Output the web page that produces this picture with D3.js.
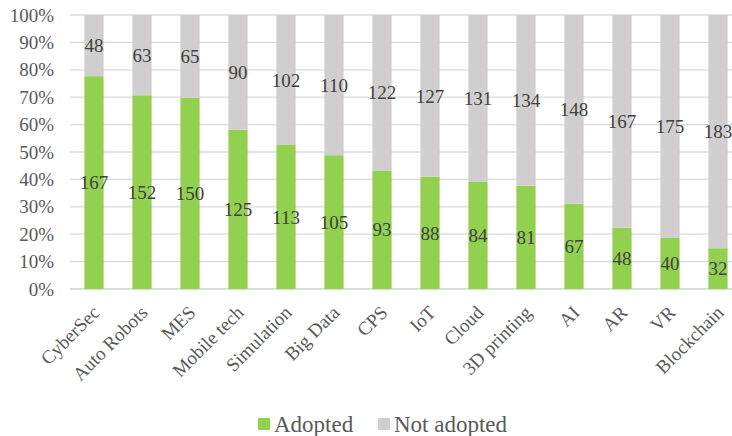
<!DOCTYPE html>
<html lang="en">
<head>
<meta charset="UTF-8">
<title>Adoption chart</title>
<script src="https://d3js.org/d3.v7.min.js"></script>
<style>
  body { margin: 0; background: #fff; }
</style>
</head>
<body>
<div id="chart"></div>
<script>
var categories = ["CyberSec", "Auto Robots", "MES", "Mobile tech", "Simulation", "Big Data", "CPS", "IoT", "Cloud", "3D printing", "AI", "AR", "VR", "Blockchain"];
var adopted = [167, 152, 150, 125, 113, 105, 93, 88, 84, 81, 67, 48, 40, 32];
var notAdopted = [48, 63, 65, 90, 102, 110, 122, 127, 131, 134, 148, 167, 175, 183];
var yTicks = [0, 0.1, 0.2, 0.3, 0.4, 0.5, 0.6, 0.7, 0.8, 0.9, 1];
var seriesNames = ["Adopted", "Not adopted"];
var colors = ["#92D050", "#D0CECE"];

var width = 732, height = 436;
var margin = {top: 15, right: -10, bottom: 147, left: 70};
var FONT = "Liberation Serif";

var svg = d3.select("#chart").append("svg")
    .attr("width", width)
    .attr("height", height);

var rows = categories.map(function(c, i) {
    var total = adopted[i] + notAdopted[i];
    return {cat: c, a: adopted[i], n: notAdopted[i], pa: adopted[i] / total, pn: notAdopted[i] / total};
});

var x = d3.scaleBand()
    .domain(categories)
    .range([margin.left, width - margin.right])
    .paddingInner(0.6)
    .paddingOuter(0.3);

var y = d3.scaleLinear()
    .domain([0, 1])
    .range([height - margin.bottom, margin.top]);

// gridlines
svg.append("g").selectAll("line")
    .data(yTicks)
    .enter().append("line")
    .attr("x1", margin.left)
    .attr("x2", width)
    .attr("y1", d => y(d))
    .attr("y2", d => y(d))
    .attr("stroke", d => d === 0 ? "#D0D0D0" : "#D9D9D9")
    .attr("stroke-width", 1.3);

// y tick labels
svg.append("g").selectAll("text")
    .data(yTicks)
    .enter().append("text")
    .attr("x", 54)
    .attr("y", d => y(d))
    .attr("dy", "0.35em")
    .attr("text-anchor", "end")
    .attr("fill", "#595959")
    .style("font-family", FONT)
    .style("font-size", "19px")
    .text(d => d3.format(".0%")(d));

// adopted bars
svg.append("g").selectAll("rect")
    .data(rows)
    .enter().append("rect")
    .attr("x", d => x(d.cat))
    .attr("width", x.bandwidth())
    .attr("y", d => y(d.pa))
    .attr("height", d => y(0) - y(d.pa))
    .attr("fill", colors[0]);

// not adopted bars
svg.append("g").selectAll("rect")
    .data(rows)
    .enter().append("rect")
    .attr("x", d => x(d.cat))
    .attr("width", x.bandwidth())
    .attr("y", d => y(1))
    .attr("height", d => y(d.pa) - y(1))
    .attr("fill", colors[1]);

// value labels
var labels = svg.append("g");

labels.selectAll(".la")
    .data(rows)
    .enter().append("text")
    .attr("class", "la")
    .attr("x", d => x(d.cat) + x.bandwidth() / 2)
    .attr("y", d => y(d.pa / 2))
    .attr("dy", "0.35em")
    .text(d => d.a);

labels.selectAll(".ln")
    .data(rows)
    .enter().append("text")
    .attr("class", "ln")
    .attr("x", d => x(d.cat) + x.bandwidth() / 2)
    .attr("y", d => y(d.pa + d.pn / 2))
    .attr("dy", "0.35em")
    .text(d => d.n);

labels.selectAll("text")
    .attr("text-anchor", "middle")
    .attr("fill", "#404040")
    .style("font-family", FONT)
    .style("font-size", "19px");

// x labels, rotated
svg.append("g").selectAll("text")
    .data(categories)
    .enter().append("text")
    .attr("transform", d => "translate(" + (x(d) + x.bandwidth() / 2 + 2) + "," + (y(0) + 20) + ") rotate(-45)")
    .attr("text-anchor", "end")
    .attr("dy", "0.35em")
    .attr("fill", "#595959")
    .style("font-family", FONT)
    .style("font-size", "19px")
    .text(d => d);

// legend
var legend = svg.append("g").attr("transform", "translate(258,424)");
var lx = [0, 120];
seriesNames.forEach(function(name, i) {
    legend.append("rect")
        .attr("x", lx[i])
        .attr("y", -6)
        .attr("width", 12)
        .attr("height", 12)
        .attr("fill", colors[i]);
    legend.append("text")
        .attr("x", lx[i] + 16)
        .attr("y", 0)
        .attr("dy", "0.33em")
        .attr("fill", "#595959")
        .style("font-family", FONT)
        .style("font-size", "23px")
        .text(name);
});
</script>
</body>
</html>
